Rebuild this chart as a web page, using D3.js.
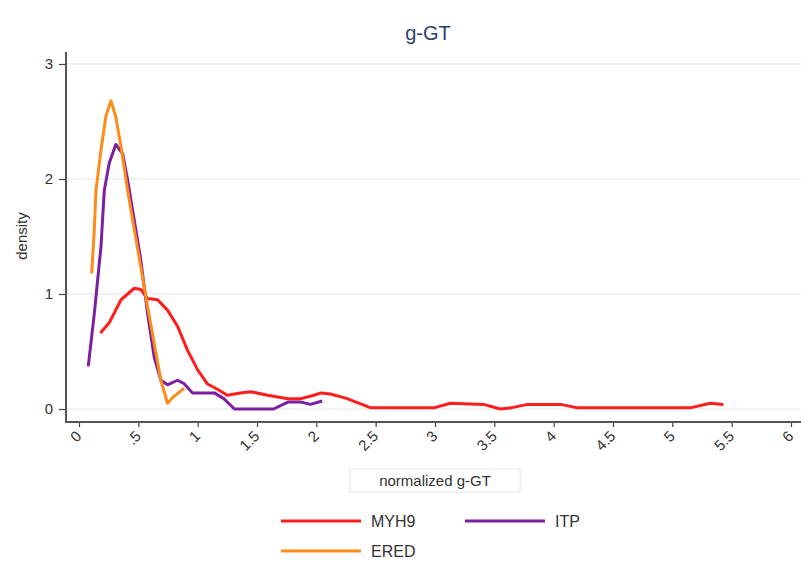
<!DOCTYPE html>
<html>
<head>
<meta charset="utf-8">
<script src="https://cdn.jsdelivr.net/npm/d3@7"></script>
<style>
  body { margin: 0; background: #fff; }
  svg { display: block; font-family: Arial, "Liberation Sans", sans-serif; }
</style>
</head>
<body>
<svg id="chart" width="801" height="565"></svg>
<script>
// density curves: [normalized g-GT, density]
const myh9 = [
  [0.18, 0.66], [0.255, 0.75], [0.354, 0.95], [0.466, 1.05], [0.52, 1.04],
  [0.578, 0.96], [0.662, 0.95], [0.746, 0.86], [0.83, 0.72], [0.915, 0.51],
  [1.0, 0.34], [1.08, 0.22], [1.17, 0.17], [1.25, 0.12], [1.36, 0.14],
  [1.45, 0.15], [1.59, 0.12], [1.76, 0.09], [1.87, 0.09], [1.98, 0.12],
  [2.04, 0.14], [2.12, 0.13], [2.26, 0.09], [2.46, 0.01], [2.99, 0.01],
  [3.13, 0.05], [3.41, 0.04], [3.55, 0.0], [3.64, 0.01], [3.78, 0.04],
  [4.06, 0.04], [4.2, 0.01], [5.15, 0.01], [5.32, 0.05], [5.43, 0.04]
];
const itp = [
  [0.078, 0.37], [0.129, 0.83], [0.185, 1.41], [0.213, 1.9], [0.255, 2.14],
  [0.31, 2.3], [0.368, 2.22], [0.41, 1.99], [0.466, 1.64], [0.52, 1.3],
  [0.578, 0.83], [0.634, 0.45], [0.69, 0.25], [0.746, 0.21], [0.83, 0.25],
  [0.886, 0.22], [0.957, 0.14], [1.14, 0.14], [1.22, 0.09], [1.31, 0.0],
  [1.64, 0.0], [1.76, 0.06], [1.87, 0.06], [1.95, 0.04], [2.05, 0.07]
];
const ered = [
  [0.107, 1.18], [0.129, 1.56], [0.143, 1.9], [0.185, 2.25], [0.227, 2.55],
  [0.27, 2.68], [0.31, 2.54], [0.354, 2.28], [0.41, 1.9], [0.466, 1.56],
  [0.52, 1.24], [0.578, 0.89], [0.634, 0.57], [0.69, 0.25], [0.746, 0.05],
  [0.8, 0.11], [0.886, 0.18]
];
const series = [
  { name: "MYH9", color: "#ff1c1c", values: myh9 },
  { name: "ITP", color: "#7b1fa2", values: itp },
  { name: "ERED", color: "#ff8c1a", values: ered }
];
const xTicks = [0, 0.5, 1, 1.5, 2, 2.5, 3, 3.5, 4, 4.5, 5, 5.5, 6];
const xTickLabels = ["0", ".5", "1", "1.5", "2", "2.5", "3", "3.5", "4", "4.5", "5", "5.5", "6"];
const yTicks = [0, 1, 2, 3];

const svg = d3.select("#chart");

const x = d3.scaleLinear().domain([0, 6]).range([79, 791]);
const y = d3.scaleLinear().domain([0, 3]).range([409, 64]);

const axisX = 66;   // y axis position
const axisY = 422;  // x axis position

// gridlines
svg.append("g")
  .selectAll("line")
  .data(yTicks)
  .join("line")
  .attr("x1", axisX + 1)
  .attr("x2", 801)
  .attr("y1", (d) => y(d))
  .attr("y2", (d) => y(d))
  .attr("stroke", "#ececec")
  .attr("stroke-width", 1.5);

// title
svg.append("text")
  .attr("x", 428)
  .attr("y", 40)
  .attr("text-anchor", "middle")
  .attr("fill", "#2b3f6b")
  .style("font-size", "20px")
  .text("g-GT");

// y axis
const gy = svg.append("g")
  .attr("transform", `translate(${axisX},0)`)
  .call(d3.axisLeft(y).tickValues(yTicks).tickFormat(d3.format("d")).tickSize(7).tickPadding(6));
gy.select(".domain").remove();
gy.selectAll(".tick line").attr("stroke", "#444").attr("stroke-width", 1.2);
gy.selectAll(".tick text").attr("fill", "#333").style("font-size", "15px").style("font-family", "Arial, sans-serif");

// x axis
const gx = svg.append("g")
  .attr("transform", `translate(0,${axisY})`)
  .call(d3.axisBottom(x).tickValues(xTicks).tickFormat((d, i) => xTickLabels[i]).tickSize(5));
gx.select(".domain").remove();
gx.selectAll(".tick line").attr("stroke", "#444").attr("stroke-width", 1.2);
gx.selectAll(".tick text")
  .attr("fill", "#333")
  .style("font-size", "15px")
  .style("font-family", "Arial, sans-serif")
  .attr("text-anchor", "end")
  .attr("dy", "0")
  .attr("y", 0)
  .attr("transform", "translate(3,15) rotate(-45)");

// axis lines
svg.append("line")
  .attr("x1", axisX).attr("x2", axisX)
  .attr("y1", 52).attr("y2", axisY + 1)
  .attr("stroke", "#555").attr("stroke-width", 2);
svg.append("line")
  .attr("x1", axisX - 1).attr("x2", 801)
  .attr("y1", axisY).attr("y2", axisY)
  .attr("stroke", "#555").attr("stroke-width", 2);

// axis titles
svg.append("rect")
  .attr("x", 350).attr("y", 469)
  .attr("width", 170).attr("height", 23)
  .attr("fill", "#fff")
  .attr("stroke", "#e6e6e6");
svg.append("text")
  .attr("x", 435).attr("y", 486)
  .attr("text-anchor", "middle")
  .attr("fill", "#333")
  .style("font-size", "15px")
  .text("normalized g-GT");

svg.append("text")
  .attr("transform", "translate(27,236) rotate(-90)")
  .attr("text-anchor", "middle")
  .attr("fill", "#333")
  .style("font-size", "15px")
  .text("density");

// curves
const line = d3.line()
  .x((d) => x(d[0]))
  .y((d) => y(d[1]));

svg.append("g")
  .selectAll("path")
  .data(series)
  .join("path")
  .attr("d", (d) => line(d.values))
  .attr("fill", "none")
  .attr("stroke", (d) => d.color)
  .attr("stroke-width", 3)
  .attr("stroke-linejoin", "round");

// legend
const legendPos = [
  { lx: 281, ly: 521 },
  { lx: 465, ly: 521 },
  { lx: 281, ly: 551 }
];
const legend = svg.append("g")
  .selectAll("g")
  .data(series)
  .join("g")
  .attr("transform", (d, i) => `translate(${legendPos[i].lx},${legendPos[i].ly})`);
legend.append("line")
  .attr("x1", 0).attr("x2", 80)
  .attr("stroke", (d) => d.color)
  .attr("stroke-width", 3);
legend.append("text")
  .attr("x", 90)
  .attr("y", 6)
  .attr("fill", "#333")
  .style("font-size", "16px")
  .text((d) => d.name);
</script>
</body>
</html>
